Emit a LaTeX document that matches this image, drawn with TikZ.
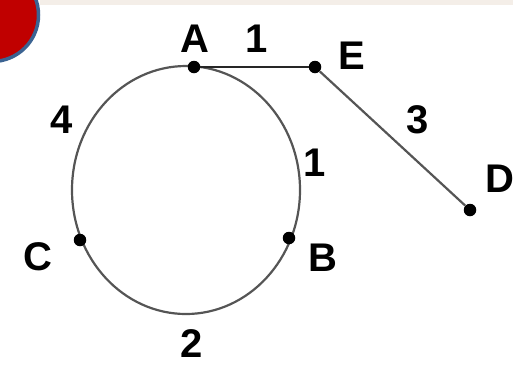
\documentclass[tikz,border=0pt]{standalone}
\usepackage{fontspec}
\setmainfont{Liberation Sans}
\definecolor{badgeR}{RGB}{192,0,0}
\definecolor{badgeB}{RGB}{59,99,146}
\definecolor{strip}{RGB}{244,238,232}
\definecolor{arcG}{RGB}{85,85,85}
\tikzstyle{dot}=[circle, fill=black, inner sep=0pt, minimum size=12.5pt]
\tikzstyle{lbl}=[font=\fontsize{40}{40}\selectfont\bfseries, inner sep=0pt]
\tikzstyle{seg}=[line width=2.2pt, arcG]

\begin{document}
\begin{tikzpicture}[x=1pt, y=-1pt]
				\useasboundingbox (0,0) rectangle (513,365);
				\clip (0,0) rectangle (513,365);
				% Corner badge and top strip
				\fill[strip] (40,0) rectangle (513,5);
				\draw[line width=3.5pt, draw=badgeB, fill=badgeR] (-8,15) circle (46.5);

				% The loop through A, B, C
				\draw[seg] (186,190) ellipse [x radius=114, y radius=124];

				\node[dot] (A) at (194, 67) {};
				\node[dot] (E) at (315, 67) {};
				\node[dot] (D) at (470,210) {};
				\node[dot] (B) at (289,238) {};
				\node[dot] (C) at ( 80,240) {};

				\draw[line width=2.4pt, black!85] (A) -- (E);
				\draw[seg] (E) -- (D);

				\node[lbl] (lA) at (195, 39) {A};
				\node[lbl] (lE) at (352, 56) {E};
				\node[lbl] (lD) at (500,179) {D};
				\node[lbl] (lB) at (323,258) {B};
				\node[lbl] (lC) at ( 38,257) {C};

				\node[lbl] (wAE) at (257, 39) {1};
				\node[lbl] (wED) at (418,120) {3};
				\node[lbl] (wAC) at ( 62,120) {4};
				\node[lbl] (wAB) at (315,163) {1};
				\node[lbl] (wBC) at (192,344) {2};
			\end{tikzpicture}
\end{document}
